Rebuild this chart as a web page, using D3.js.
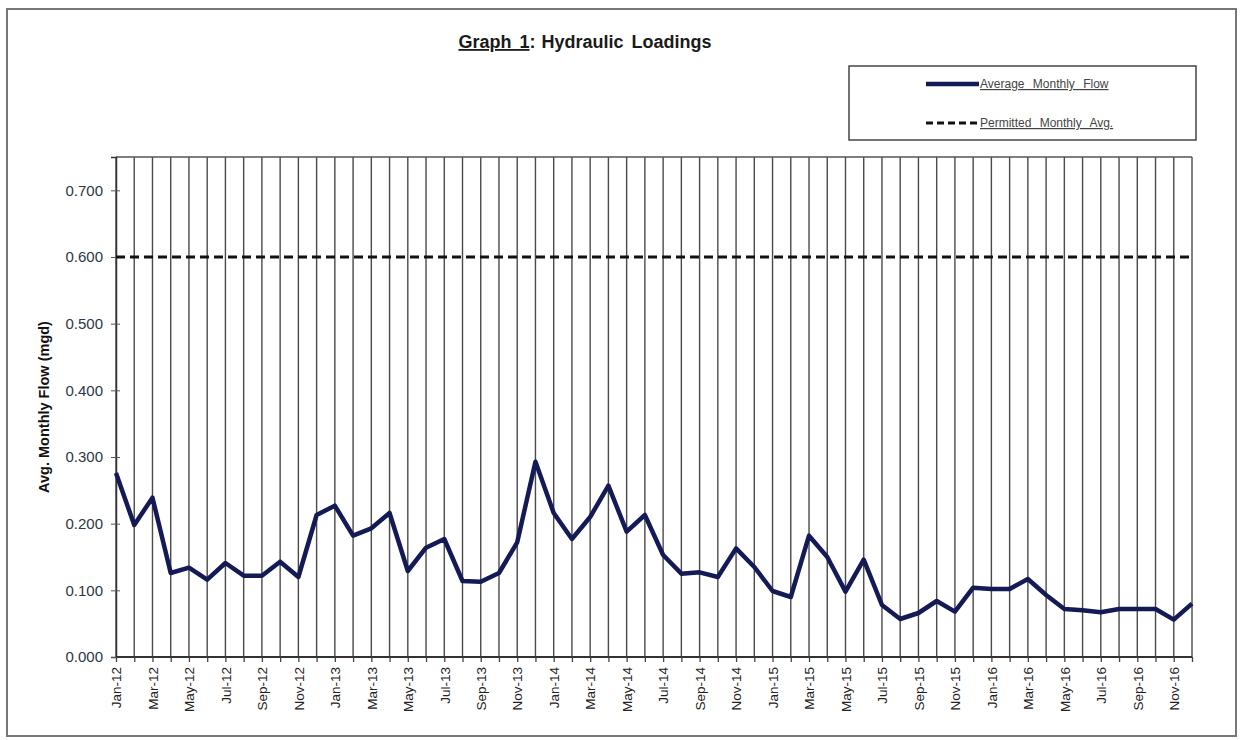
<!DOCTYPE html>
<html>
<head>
<meta charset="utf-8">
<script src="https://cdn.jsdelivr.net/npm/d3@7"></script>
<style>
  html, body { margin: 0; padding: 0; background: #fff; }
  svg { display: block; font-family: Arial, "Liberation Sans", sans-serif; }
</style>
</head>
<body>
<svg id="chart" width="1240" height="740"></svg>
<script>
// Graph 1: Hydraulic Loadings — caudal medio mensual vs. límite permitido

const MONTHS = ['Jan', 'Feb', 'Mar', 'Apr', 'May', 'Jun', 'Jul', 'Aug', 'Sep', 'Oct', 'Nov', 'Dec'];
const YEARS = ['12', '13', '14', '15', '16'];
const monthLabels = [];
YEARS.forEach(y => MONTHS.forEach(m => monthLabels.push(m + '-' + y)));

// mgd
const avgFlow = [
  0.276, 0.198, 0.239, 0.126, 0.134, 0.116, 0.141, 0.122, 0.122, 0.143, 0.120, 0.213,
  0.227, 0.182, 0.193, 0.216, 0.129, 0.164, 0.177, 0.114, 0.113, 0.126, 0.172, 0.293,
  0.216, 0.177, 0.210, 0.257, 0.188, 0.213, 0.153, 0.125, 0.127, 0.120, 0.163, 0.135,
  0.099, 0.090, 0.182, 0.150, 0.098, 0.146, 0.078, 0.057, 0.066, 0.084, 0.068, 0.104,
  0.102, 0.102, 0.117, 0.093, 0.072, 0.070, 0.067, 0.072, 0.072, 0.072, 0.056, 0.080
];
const permitted = monthLabels.map(() => 0.600);

const yTicks = [0, 0.1, 0.2, 0.3, 0.4, 0.5, 0.6, 0.7];

const svg = d3.select('#chart');
const M = { left: 116, right: 1192, top: 157, bottom: 657 };

// marco exterior
svg.append('rect').attr('x', 7).attr('y', 9).attr('width', 1229).attr('height', 727)
  .attr('fill', 'none').attr('stroke', '#777').attr('stroke-width', 2);

const x = d3.scalePoint().domain(monthLabels).range([M.left, M.right]);
const y = d3.scaleLinear().domain([0, 0.75]).range([M.bottom, M.top]);

// rejilla vertical (un trazo por mes)
svg.append('g').selectAll('line').data(monthLabels).join('line')
  .attr('x1', d => x(d)).attr('x2', d => x(d))
  .attr('y1', M.top).attr('y2', M.bottom)
  .attr('stroke', '#4a4a4a').attr('stroke-width', 1.4);

// borde superior del área
svg.append('line').attr('x1', M.left).attr('x2', M.right).attr('y1', M.top).attr('y2', M.top)
  .attr('stroke', '#555').attr('stroke-width', 1.4);

// eje Y
const yAxis = d3.axisLeft(y).tickValues(yTicks).tickFormat(d3.format('.3f')).tickSize(5).tickPadding(6);
const gy = svg.append('g').attr('transform', `translate(${M.left},0)`).call(yAxis);
gy.select('.domain').attr('stroke', '#333').attr('stroke-width', 1.5);
gy.selectAll('.tick line').attr('stroke', '#555').attr('x2', -5).attr('x1', 4);
gy.selectAll('.tick text').attr('fill', '#2b3846').style('font-size', '15px').attr('dx', '-2');

// eje X
const xAxis = d3.axisBottom(x).tickSize(5).tickPadding(4)
  .tickFormat((d, i) => i % 2 === 0 ? d : '');
const gx = svg.append('g').attr('transform', `translate(0,${M.bottom})`).call(xAxis);
gx.select('.domain').attr('stroke', '#333').attr('stroke-width', 2).attr('d', `M${M.left},0H${M.right}`);
gx.selectAll('.tick line').attr('stroke', '#444').attr('stroke-width', 1.3);
gx.selectAll('.tick text')
  .attr('fill', '#222').style('font-size', '13.5px')
  .attr('transform', 'rotate(-90)')
  .attr('text-anchor', 'end').attr('x', -10).attr('y', 0).attr('dy', '0.35em');

// línea permitida
svg.append('path').datum(permitted)
  .attr('fill', 'none').attr('stroke', '#111').attr('stroke-width', 3.2)
  .attr('stroke-dasharray', '9,5')
  .attr('d', d3.line().x((d, i) => x(monthLabels[i])).y(d => y(d)));

// caudal medio mensual
svg.append('path').datum(avgFlow)
  .attr('fill', 'none').attr('stroke', '#141a55').attr('stroke-width', 4.5)
  .attr('stroke-linejoin', 'round')
  .attr('d', d3.line().x((d, i) => x(monthLabels[i])).y(d => y(d)));

// título
const title = svg.append('text').attr('x', 585).attr('y', 48).attr('text-anchor', 'middle')
  .style('font-size', '18px').style('font-weight', 'bold').style('word-spacing', '3px')
  .attr('fill', '#1a1a1a');
title.append('tspan').attr('text-decoration', 'underline').text('Graph 1');
title.append('tspan').text(':');
title.append('tspan').attr('dx', 6).text('Hydraulic Loadings');

// etiqueta del eje Y
svg.append('text').attr('transform', 'translate(49,407) rotate(-90)')
  .attr('text-anchor', 'middle').style('font-size', '14.5px').style('font-weight', 'bold')
  .attr('fill', '#111').text('Avg. Monthly Flow (mgd)');

// leyenda
svg.append('rect').attr('x', 849).attr('y', 66).attr('width', 347).attr('height', 74)
  .attr('fill', '#fff').attr('stroke', '#444').attr('stroke-width', 1.5);
const legend = [
  { label: 'Average Monthly Flow', y: 84, color: '#141a55', dash: null, w: 4.5 },
  { label: 'Permitted Monthly Avg.', y: 123, color: '#111', dash: '7,4', w: 3.2 }
];
legend.forEach(l => {
  svg.append('line').attr('x1', 926).attr('x2', 979).attr('y1', l.y).attr('y2', l.y)
    .attr('stroke', l.color).attr('stroke-width', l.w).attr('stroke-dasharray', l.dash);
  svg.append('text').attr('x', 980).attr('y', l.y + 4).style('font-size', '12px')
    .style('word-spacing', '5px')
    .attr('fill', '#444').attr('text-decoration', 'underline').text(l.label);
});
</script>
</body>
</html>
